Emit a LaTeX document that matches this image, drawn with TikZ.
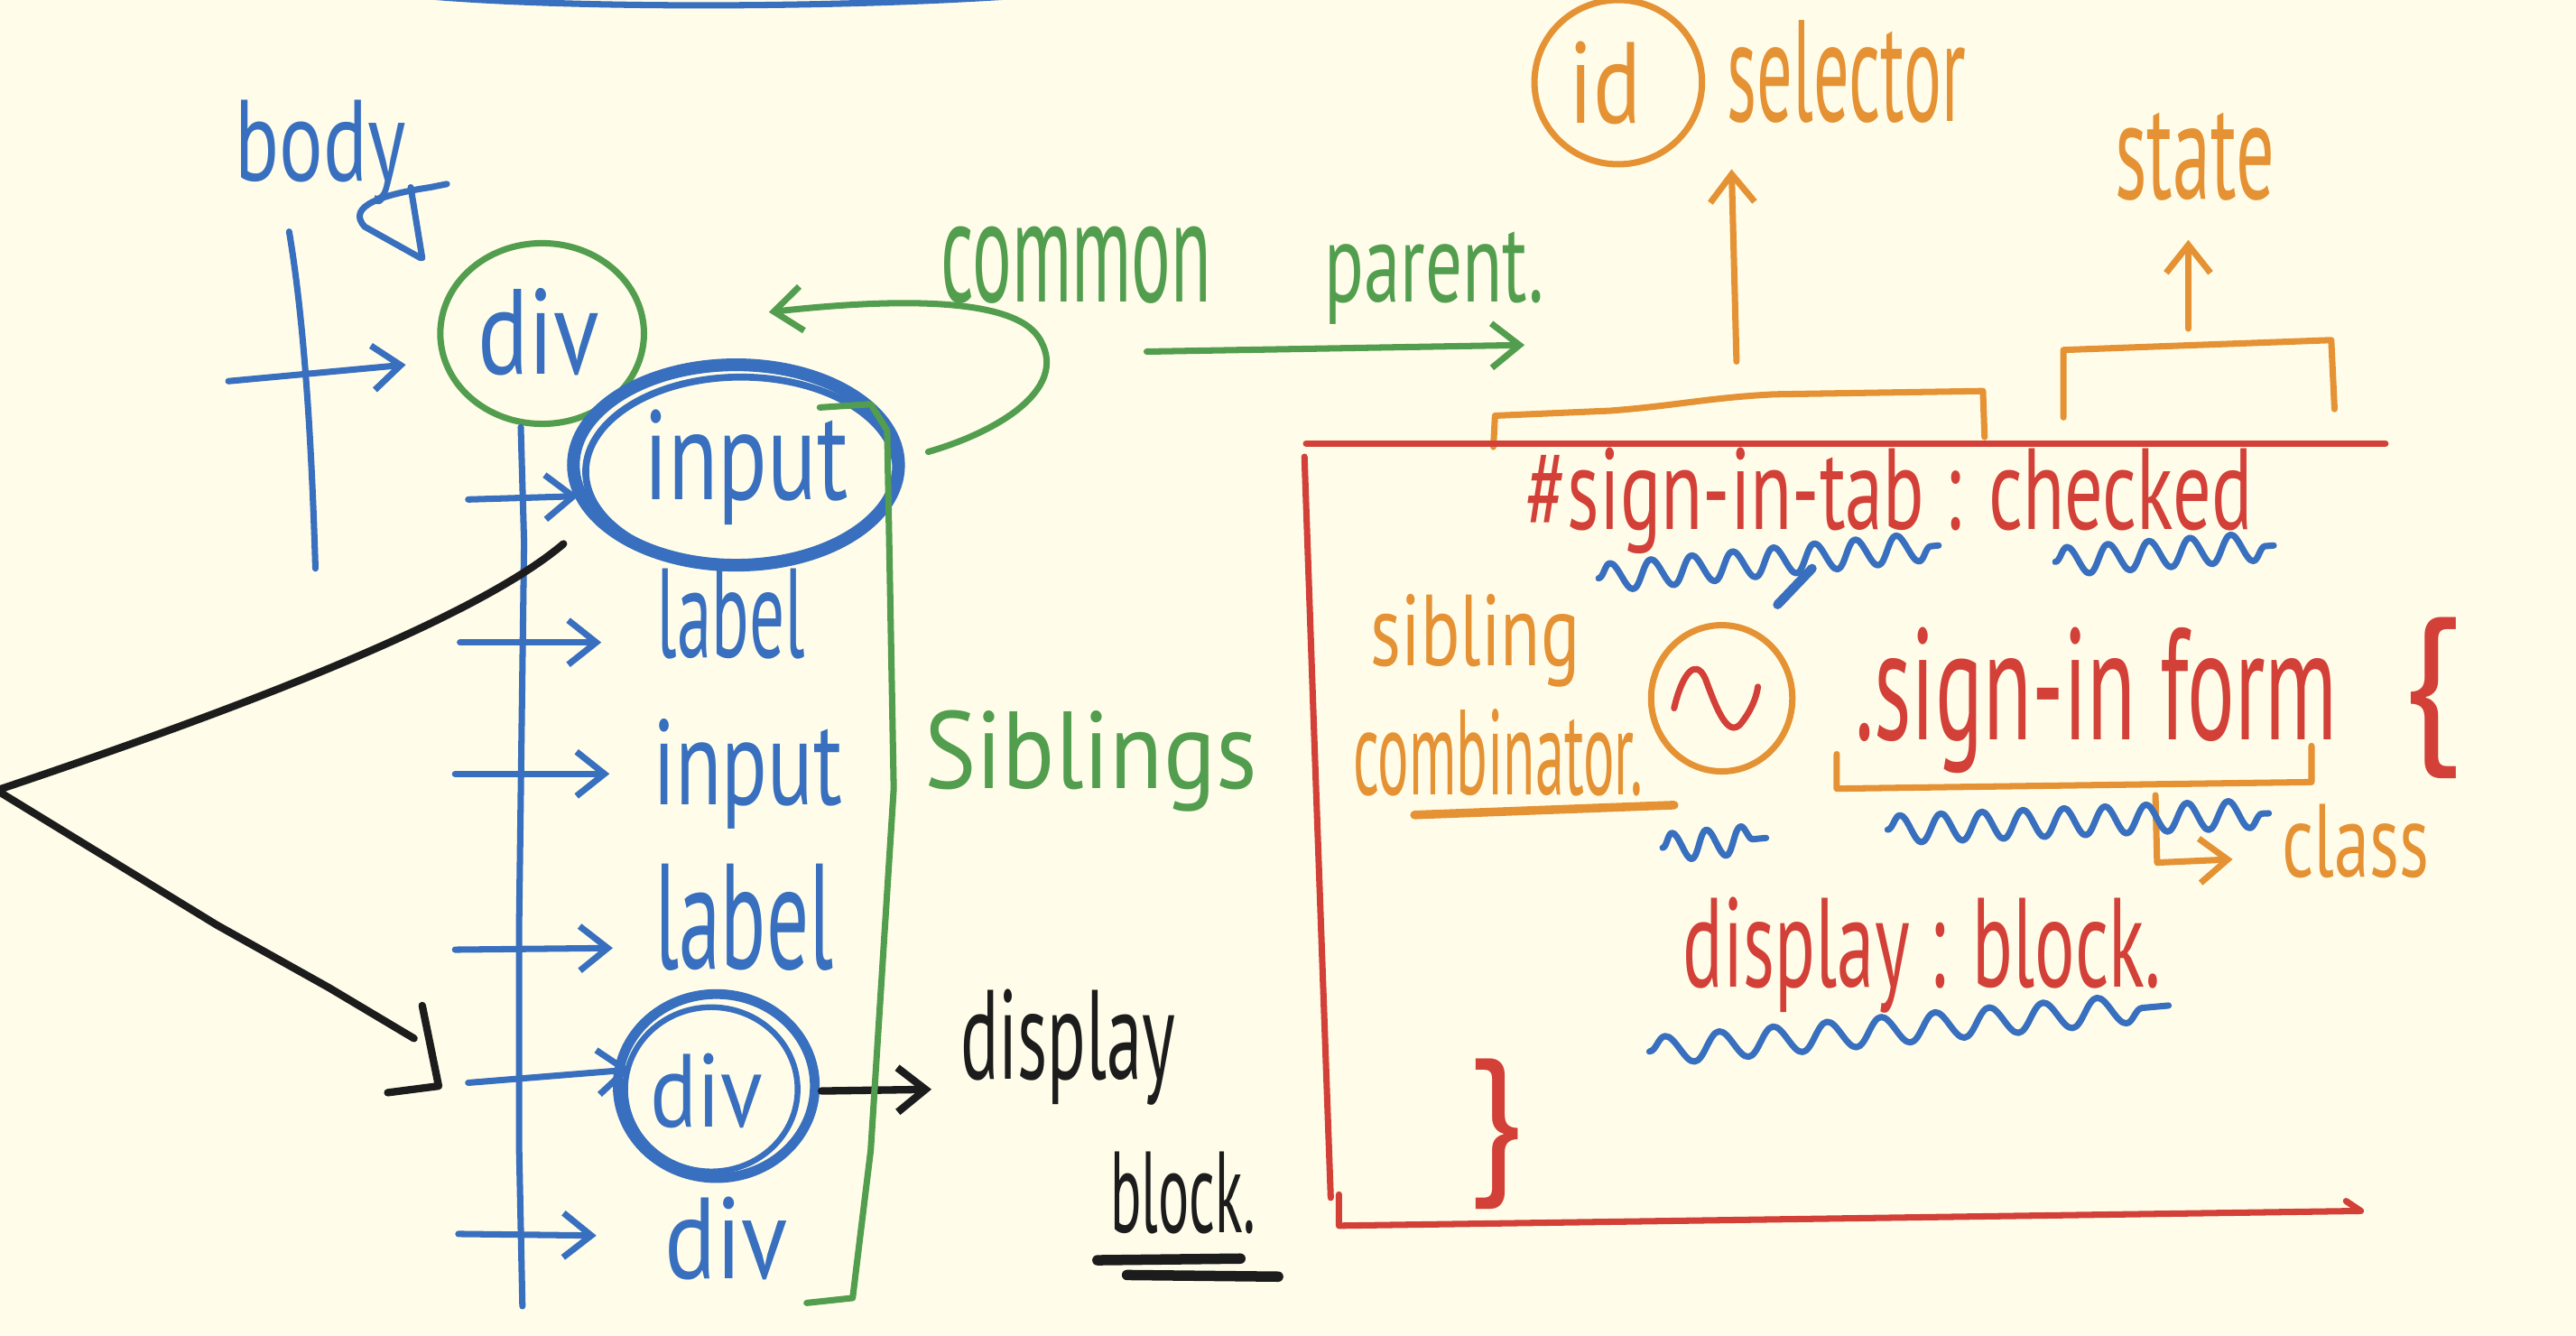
\documentclass[tikz,border=0pt]{standalone}
\usepackage{fontspec}
\setmainfont{PT Sans}
\usetikzlibrary{arrows.meta,decorations.pathmorphing,shapes.geometric}
\definecolor{paper}{RGB}{255,253,234}
\definecolor{inkblue}{RGB}{56,111,190}
\definecolor{inkgreen}{RGB}{82,158,78}
\definecolor{inkred}{RGB}{210,64,56}
\definecolor{inkorange}{RGB}{229,146,52}
\definecolor{inkblack}{RGB}{28,28,28}
\newcommand{\hw}[3]{\fontsize{#1}{#1}\selectfont\scalebox{#2}[1]{#3}}
\begin{document}
\begin{tikzpicture}[x=0.02cm,y=-0.02cm,
  pen/.style={line width=2.2pt,line cap=round,line join=round},
  txt/.style={inner sep=0pt,anchor=base},
  barb/.style={-{Straight Barb[length=3.4mm,width=5.4mm]}},
  ring/.style={ellipse,inner sep=0pt,pen},
  wavy/.style={decorate,decoration={snake,segment length=#1,amplitude=0.17cm}},
]
\path[use as bounding box,fill=paper] (0,0) rectangle (1568,813);

% ---------- top stroke ----------
\draw[pen,inkblue] (264,-2) .. controls (350,5) and (500,5) .. (611,-2);

% ---------- body tree ----------
\coordinate (bt) at (176,141); \coordinate (bb) at (192,346);
\draw[pen,inkblue] (bt) .. controls (186,200) and (190,280) .. (bb);
\coordinate (b0) at (139,232); \coordinate (b1) at (247,222);
\draw[pen,inkblue,barb] (b0) -- (b1);
\draw[pen,inkblue] (250,114) -- (257,157);
\draw[pen,inkblue] (272,112) -- (262,114) .. controls (235,118) and (210,125) .. (222,138) -- (256,157);

% circles
\node[ring,draw=inkgreen,minimum width=2.48cm,minimum height=2.2cm] (divring) at (330,203) {};
\node[ring,draw=inkblue,line width=4.4pt,minimum width=3.96cm,minimum height=2.44cm] (inring) at (448,283) {};
\node[ring,draw=inkblue,line width=2.4pt,minimum width=3.78cm,minimum height=2.3cm] (inring2) at (451,287) {};
\node[ring,draw=inkblue,line width=3.4pt,minimum width=2.4cm,minimum height=2.24cm] (divring2) at (436,661) {};
\node[ring,draw=inkblue,line width=2pt,minimum width=2.1cm,minimum height=2.0cm] (divring3) at (433,663) {};

% children line
\coordinate (ct) at (317,260); \coordinate (cb) at (318,795);
\draw[pen,inkblue] (ct) -- (319,330) -- (316,560) -- (316,700) -- (cb);

% child arrows
\coordinate (c1a) at (285,304); \coordinate (c1b) at (352,302);
\coordinate (c2a) at (280,391); \coordinate (c2b) at (366,391);
\coordinate (c3a) at (277,471); \coordinate (c3b) at (371,471);
\coordinate (c4a) at (277,578); \coordinate (c4b) at (373,577);
\coordinate (c5a) at (285,659); \coordinate (c5b) at (384,651);
\coordinate (c6a) at (279,751); \coordinate (c6b) at (363,752);
\foreach \s/\e in {c1a/c1b,c2a/c2b,c3a/c3b,c4a/c4b,c5a/c5b,c6a/c6b}
  \draw[pen,inkblue,barb] (\s) -- (\e);

% ---------- black bracket ----------
\coordinate (k0) at (343,331); \coordinate (k1) at (-2,481); \coordinate (k2) at (252,632);
\draw[pen,inkblack,line width=2.6pt] (k0) .. controls (290,376) and (150,430) .. (k1)
   -- (132,563) -- (200,601) -- (k2);
\draw[pen,inkblack,line width=2.6pt] (257,612) -- (267,661) -- (236,665);
\coordinate (d0) at (500,664); \coordinate (d1) at (567,663);
\draw[pen,inkblack,line width=2.6pt,barb] (d0) -- (d1);
\draw[inkblack,line width=3.6pt,line cap=round] (668,767) -- (755,766);
\draw[inkblack,line width=3.6pt,line cap=round] (686,776) -- (778,777);

% ---------- green ----------
\draw[pen,inkgreen] (499,248) -- (530,246) -- (540,262) -- (544,480) -- (530,700) -- (519,790) -- (491,793);
\coordinate (g0) at (565,275); \coordinate (g1) at (468,190);
\draw[pen,inkgreen,barb] (g0) .. controls (610,262) and (652,235) .. (632,205)
   .. controls (615,180) and (540,182) .. (g1);
\coordinate (p0) at (698,214); \coordinate (p1) at (928,210);
\draw[pen,inkgreen,barb] (p0) -- (p1);

% ---------- orange ----------
\node[ring,draw=inkorange,minimum width=2.04cm,minimum height=2.0cm] (idring) at (985,50) {};
\coordinate (i0) at (1057,220); \coordinate (i1) at (1054,103);
\draw[pen,inkorange,barb] (i0) -- (i1);
\coordinate (s0) at (1332,200); \coordinate (s1) at (1332,146);
\draw[pen,inkorange,barb] (s0) -- (s1);
\draw[pen,inkorange] (909,272) -- (910,253) -- (980,250) .. controls (1020,247) and (1040,242) .. (1080,240) -- (1207,238) -- (1208,266);
\draw[pen,inkorange] (1256,254) -- (1256,213) -- (1419,207) -- (1421,249);
\draw[pen,inkorange] (1118,459) -- (1118,480) -- (1407,476) -- (1407,454);
\coordinate (q0) at (1312,484); \coordinate (q1) at (1359,523);
\draw[pen,inkorange,barb] (q0) -- (1313,525) -- (q1);
\draw[inkorange,line width=3pt,line cap=round] (861,496) -- (1019,490);
\node[ring,draw=inkorange,minimum width=1.72cm,minimum height=1.78cm] (tring) at (1048,425) {};
\draw[pen,inkred] (1019,431) .. controls (1024,410) and (1032,400) .. (1038,413)
   .. controls (1045,432) and (1052,450) .. (1060,440) .. controls (1066,432) and (1069,425) .. (1070,418);

% ---------- red box ----------
\draw[pen,inkred] (1452,270) -- (795,270);
\draw[pen,inkred] (794,278) -- (800,450) -- (810,729);
\draw[pen,inkred] (815,727) -- (815,746) -- (1437,737) -- (1428,731);

% ---------- blue squiggles ----------
\draw[pen,inkblue,wavy=0.5cm] (973,352) -- (1180,332);
\draw[inkblue,line width=3.2pt,line cap=round] (1103,346) -- (1082,368);
\draw[pen,inkblue,wavy=0.5cm] (1251,342) -- (1384,332);
\draw[pen,inkblue,wavy=0.42cm] (1012,516) -- (1075,510);
\draw[pen,inkblue,wavy=0.5cm] (1149,505) -- (1381,495);
\draw[pen,inkblue,wavy=0.66cm] (1004,640) -- (1320,612);

% ---------- texts ----------
\node[txt,inkblue] (body) at (195,110) {\hw{40}{0.71}{body}};
\node[txt,inkblue] (divA) at (328,228) {\hw{42}{0.78}{div}};
\node[txt,inkblue] (inA) at (454,304) {\hw{44}{0.72}{input}};
\node[txt,inkblue] (labA) at (445,400) {\hw{44}{0.55}{label}};
\node[txt,inkblue] (inB) at (455,490) {\hw{42}{0.7}{input}};
\node[txt,inkblue] (labB) at (453,590) {\hw{52}{0.56}{label}};
\node[txt,inkblue] (divB) at (430,686) {\hw{36}{0.84}{div}};
\node[txt,inkblue] (divC) at (442,778) {\hw{40}{0.83}{div}};
\node[txt,inkblack] (disp) at (650,657) {\hw{44}{0.56}{display}};
\node[txt,inkblack] (blk) at (720,750) {\hw{40}{0.5}{block.}};
\node[txt,inkgreen] (sib) at (664,480) {\hw{38}{0.89}{Siblings}};
\node[txt,inkgreen] (common) at (655,184) {\hw{51}{0.5}{common}};
\node[txt,inkgreen] (parent) at (873,184) {\hw{39}{0.65}{parent.}};
\node[txt,inkorange] (id) at (977,75) {\hw{40}{0.77}{id}};
\node[txt,inkorange] (sel) at (1124,74) {\hw{50}{0.49}{selector}};
\node[txt,inkorange] (state) at (1336,121) {\hw{48}{0.55}{state}};
\node[txt,inkorange] (sibl) at (898,405) {\hw{35}{0.72}{sibling}};
\node[txt,inkorange] (comb) at (912,484) {\hw{42}{0.48}{combinator.}};
\node[txt,inkred] (form) at (1276,450) {\hw{55}{0.56}{.sign-in form}};
\node[txt,inkred] (tab) at (1150,322) {\hw{40}{0.66}{\#sign-in-tab : checked}};
\node[txt,inkred] (dblock) at (1170,601) {\hw{44}{0.59}{display : block.}};
\node[txt,inkorange] (cls) at (1434,534) {\hw{36}{0.68}{class}};
\node[inkred,inner sep=0pt] (lb) at (1480,425) {\hw{60}{1}{\{}};
\node[inkred,inner sep=0pt] (rb) at (910,690) {\hw{56}{1}{\}}};
\end{tikzpicture}
\end{document}
